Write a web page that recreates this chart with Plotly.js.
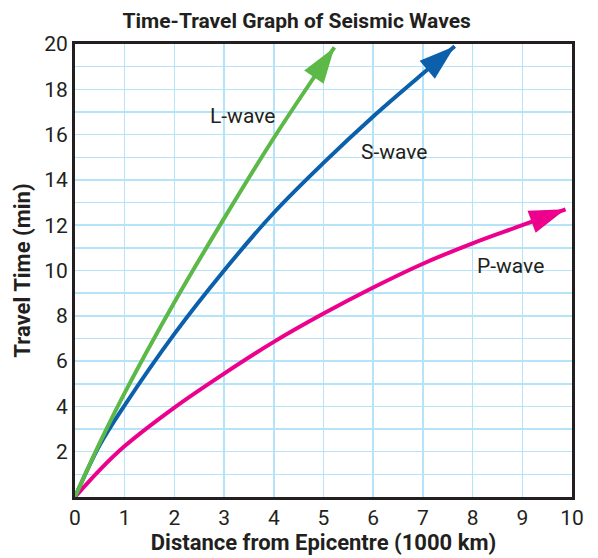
<!DOCTYPE html>
<html><head><meta charset="utf-8">
<script src="https://cdn.plot.ly/plotly-3.0.1.min.js"></script>
<style>html,body{margin:0;padding:0;background:#fff}</style>
</head><body>
<div id="chart" style="width:598px;height:558px"></div>
<script>
// Data (distance in 1000 km, travel time in min)
const lWaveX = [0, 0.5, 1, 2, 3, 4, 5, 5.22];
const lWaveY = [0, 2.4, 4.6, 8.6, 12.3, 15.85, 19.15, 19.85];
const sWaveX = [0, 0.5, 1, 2, 3, 4, 5, 6, 7, 7.64];
const sWaveY = [0, 2.3, 4.05, 7.2, 10.0, 12.55, 14.75, 16.8, 18.7, 19.9];
const pWaveX = [0, 0.5, 1, 2, 3, 4, 5, 6, 7, 8, 9, 9.87];
const pWaveY = [0, 1.2, 2.25, 3.95, 5.45, 6.85, 8.1, 9.25, 10.3, 11.2, 12.0, 12.7];
const xTicks = [0, 1, 2, 3, 4, 5, 6, 7, 8, 9, 10];
const yTicks = [2, 4, 6, 8, 10, 12, 14, 16, 18, 20];
const waveNames = ['L-wave', 'S-wave', 'P-wave'];

const FONT = '"Liberation Sans Narrow", "Roboto", sans-serif';
const TXT = '#231f20';
const ARROW = 38;

function waveLine(x, y, color) {
  return {
    x: x, y: y, type: 'scatter', mode: 'lines',
    line: {color: color, width: 4, shape: 'spline', smoothing: 1},
    hoverinfo: 'skip', showlegend: false
  };
}
function waveHead(x, y, color) {
  const hx = x.slice(-2), hy = y.slice(-2);
  return {
    x: hx, y: hy, type: 'scatter', mode: 'markers',
    marker: {symbol: 'arrow', angleref: 'previous', color: color, opacity: 1,
             size: hx.map((v, i) => i === hx.length - 1 ? ARROW : 0),
             line: {width: 0}},
    hoverinfo: 'skip', showlegend: false
  };
}

const data = [
  waveLine(pWaveX, pWaveY, '#ec008c'),
  waveLine(sWaveX, sWaveY, '#0b5fab'),
  waveLine(lWaveX, lWaveY, '#5cb847'),
  waveHead(pWaveX, pWaveY, '#ec008c'),
  waveHead(sWaveX, sWaveY, '#0b5fab'),
  waveHead(lWaveX, lWaveY, '#5cb847')
];

const layout = {
  width: 598, height: 558,
  margin: {l: 75, r: 26, t: 44, b: 61},
  paper_bgcolor: '#fff', plot_bgcolor: '#fff',
  font: {family: FONT, color: TXT, size: 21},
  title: {text: '<b>Time-Travel Graph of Seismic Waves</b>',
          font: {family: FONT, size: 21, color: TXT},
          xref: 'paper', x: 0.446, xanchor: 'center',
          yref: 'container', y: 0.963, yanchor: 'middle'},
  xaxis: {range: [0, 10], tickvals: xTicks, ticks: '',
          showgrid: true, gridcolor: '#b5e3f8', gridwidth: 1.5,
          showline: true, mirror: true, linecolor: TXT, linewidth: 3,
          zeroline: false, tickfont: {family: FONT, size: 21, color: TXT},
          title: {text: '<b>Distance from Epicentre (1000 km)</b>', standoff: 6,
                  font: {family: FONT, size: 22, color: TXT}}},
  yaxis: {range: [0, 20], tickvals: yTicks, ticks: '',
          showgrid: true, gridcolor: '#b5e3f8', gridwidth: 1.5,
          minor: {dtick: 1, tick0: 0, showgrid: true, gridcolor: '#b5e3f8', gridwidth: 1.5},
          showline: true, mirror: true, linecolor: TXT, linewidth: 3,
          zeroline: false, tickfont: {family: FONT, size: 21, color: TXT},
          title: {text: '<b>Travel Time (min)</b>', standoff: 8,
                  font: {family: FONT, size: 22, color: TXT}}},
  annotations: [
    {x: 3.38, y: 16.8, text: waveNames[0]},
    {x: 6.43, y: 15.25, text: waveNames[1]},
    {x: 8.77, y: 10.2, text: waveNames[2]}
  ].map(a => Object.assign(a, {xref: 'x', yref: 'y', showarrow: false,
        font: {family: FONT, size: 21, color: TXT}}))
};

Plotly.newPlot('chart', data, layout, {displayModeBar: false, staticPlot: true});
</script>
</body></html>
